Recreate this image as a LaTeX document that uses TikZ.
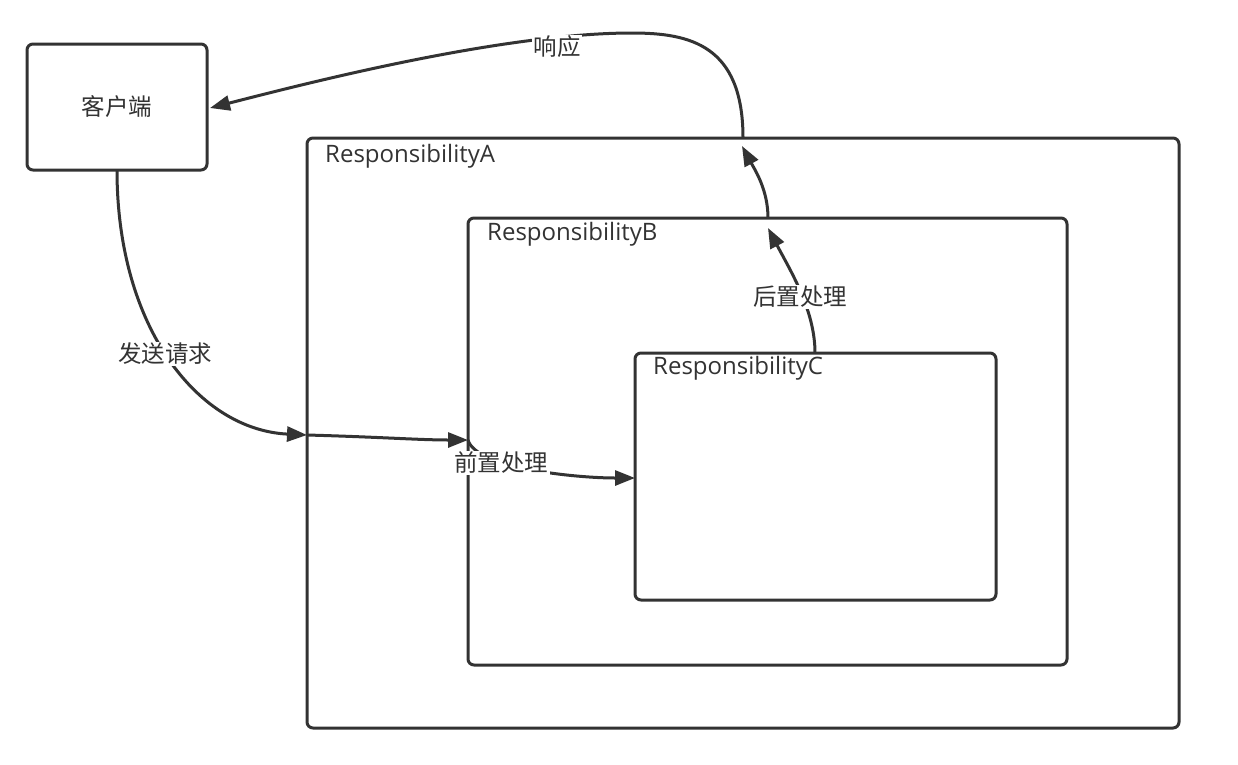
\documentclass[tikz,border=0pt]{standalone}
\usepackage{fontspec}
\setmainfont{Open Sans}
\newfontfamily\cjk{Noto Sans CJK SC}
\usetikzlibrary{arrows.meta}
\definecolor{ink}{HTML}{333333}
\begin{document}
\begin{tikzpicture}[x=1pt,y=-1pt,
  box/.style={draw=ink,line width=3pt,rounded corners=6pt},
  conn/.style={draw=ink,line width=3pt,-{Triangle[length=20pt,width=15pt]}},
  lbl/.style={text=ink,font=\cjk\fontsize{23.5}{28}\selectfont,fill=white,inner sep=1.5pt},
  title/.style={text=ink,font=\fontsize{24}{28}\selectfont,anchor=west,inner sep=0pt}]
\useasboundingbox (0,0) rectangle (1238,764);
\fill[white] (0,0) rectangle (1238,764);
% boxes
\draw[box] (27,44) rectangle (207,170);
\node[text=ink,font=\cjk\fontsize{23.5}{28}\selectfont] (client) at (117,107) {客户端};
\coordinate (clientR) at (210,108);
\coordinate (clientB) at (117,170);
\draw[box] (307,138) rectangle (1179,728);
\draw[box] (468,218) rectangle (1067,665);
\draw[box] (635,353) rectangle (996,600);
\node[title] (tA) at (325,156) {ResponsibilityA};
\node[title] (tB) at (487,234) {ResponsibilityB};
\node[title] (tC) at (653,368) {ResponsibilityC};
\coordinate (Aleft) at (307,435);
\coordinate (Bleft) at (468,440);
\coordinate (Cleft) at (635,478);
\coordinate (Ctop) at (815,353);
\coordinate (Btip) at (768,228);
\coordinate (Btop) at (768,218);
\coordinate (Atip) at (742,146);
\coordinate (Atop) at (743,138);
\coordinate (peak) at (632,33);
% connectors
\draw[conn] (clientB) .. controls (117,330) and (200,430) .. (Aleft);
\draw[conn] (Aleft) .. controls (380,437) and (420,440) .. (Bleft);
\draw[conn] (Bleft) .. controls (476,468) and (575,478) .. (Cleft);
\draw[conn] (Ctop) .. controls (815,310) and (790,270) .. (Btip);
\draw[conn] (Btop) .. controls (768,190) and (755,170) .. (Atip);
\draw[conn] (Atop) .. controls (743,45) and (690,33) .. (peak) .. controls (500,33) and (300,85) .. (clientR);
% labels
\node[lbl] (l1) at (165,354) {发送请求};
\node[lbl] (l2) at (501,463) {前置处理};
\node[lbl] (l3) at (800,297) {后置处理};
\node[lbl] (l4) at (557,47) {响应};
\end{tikzpicture}
\end{document}
